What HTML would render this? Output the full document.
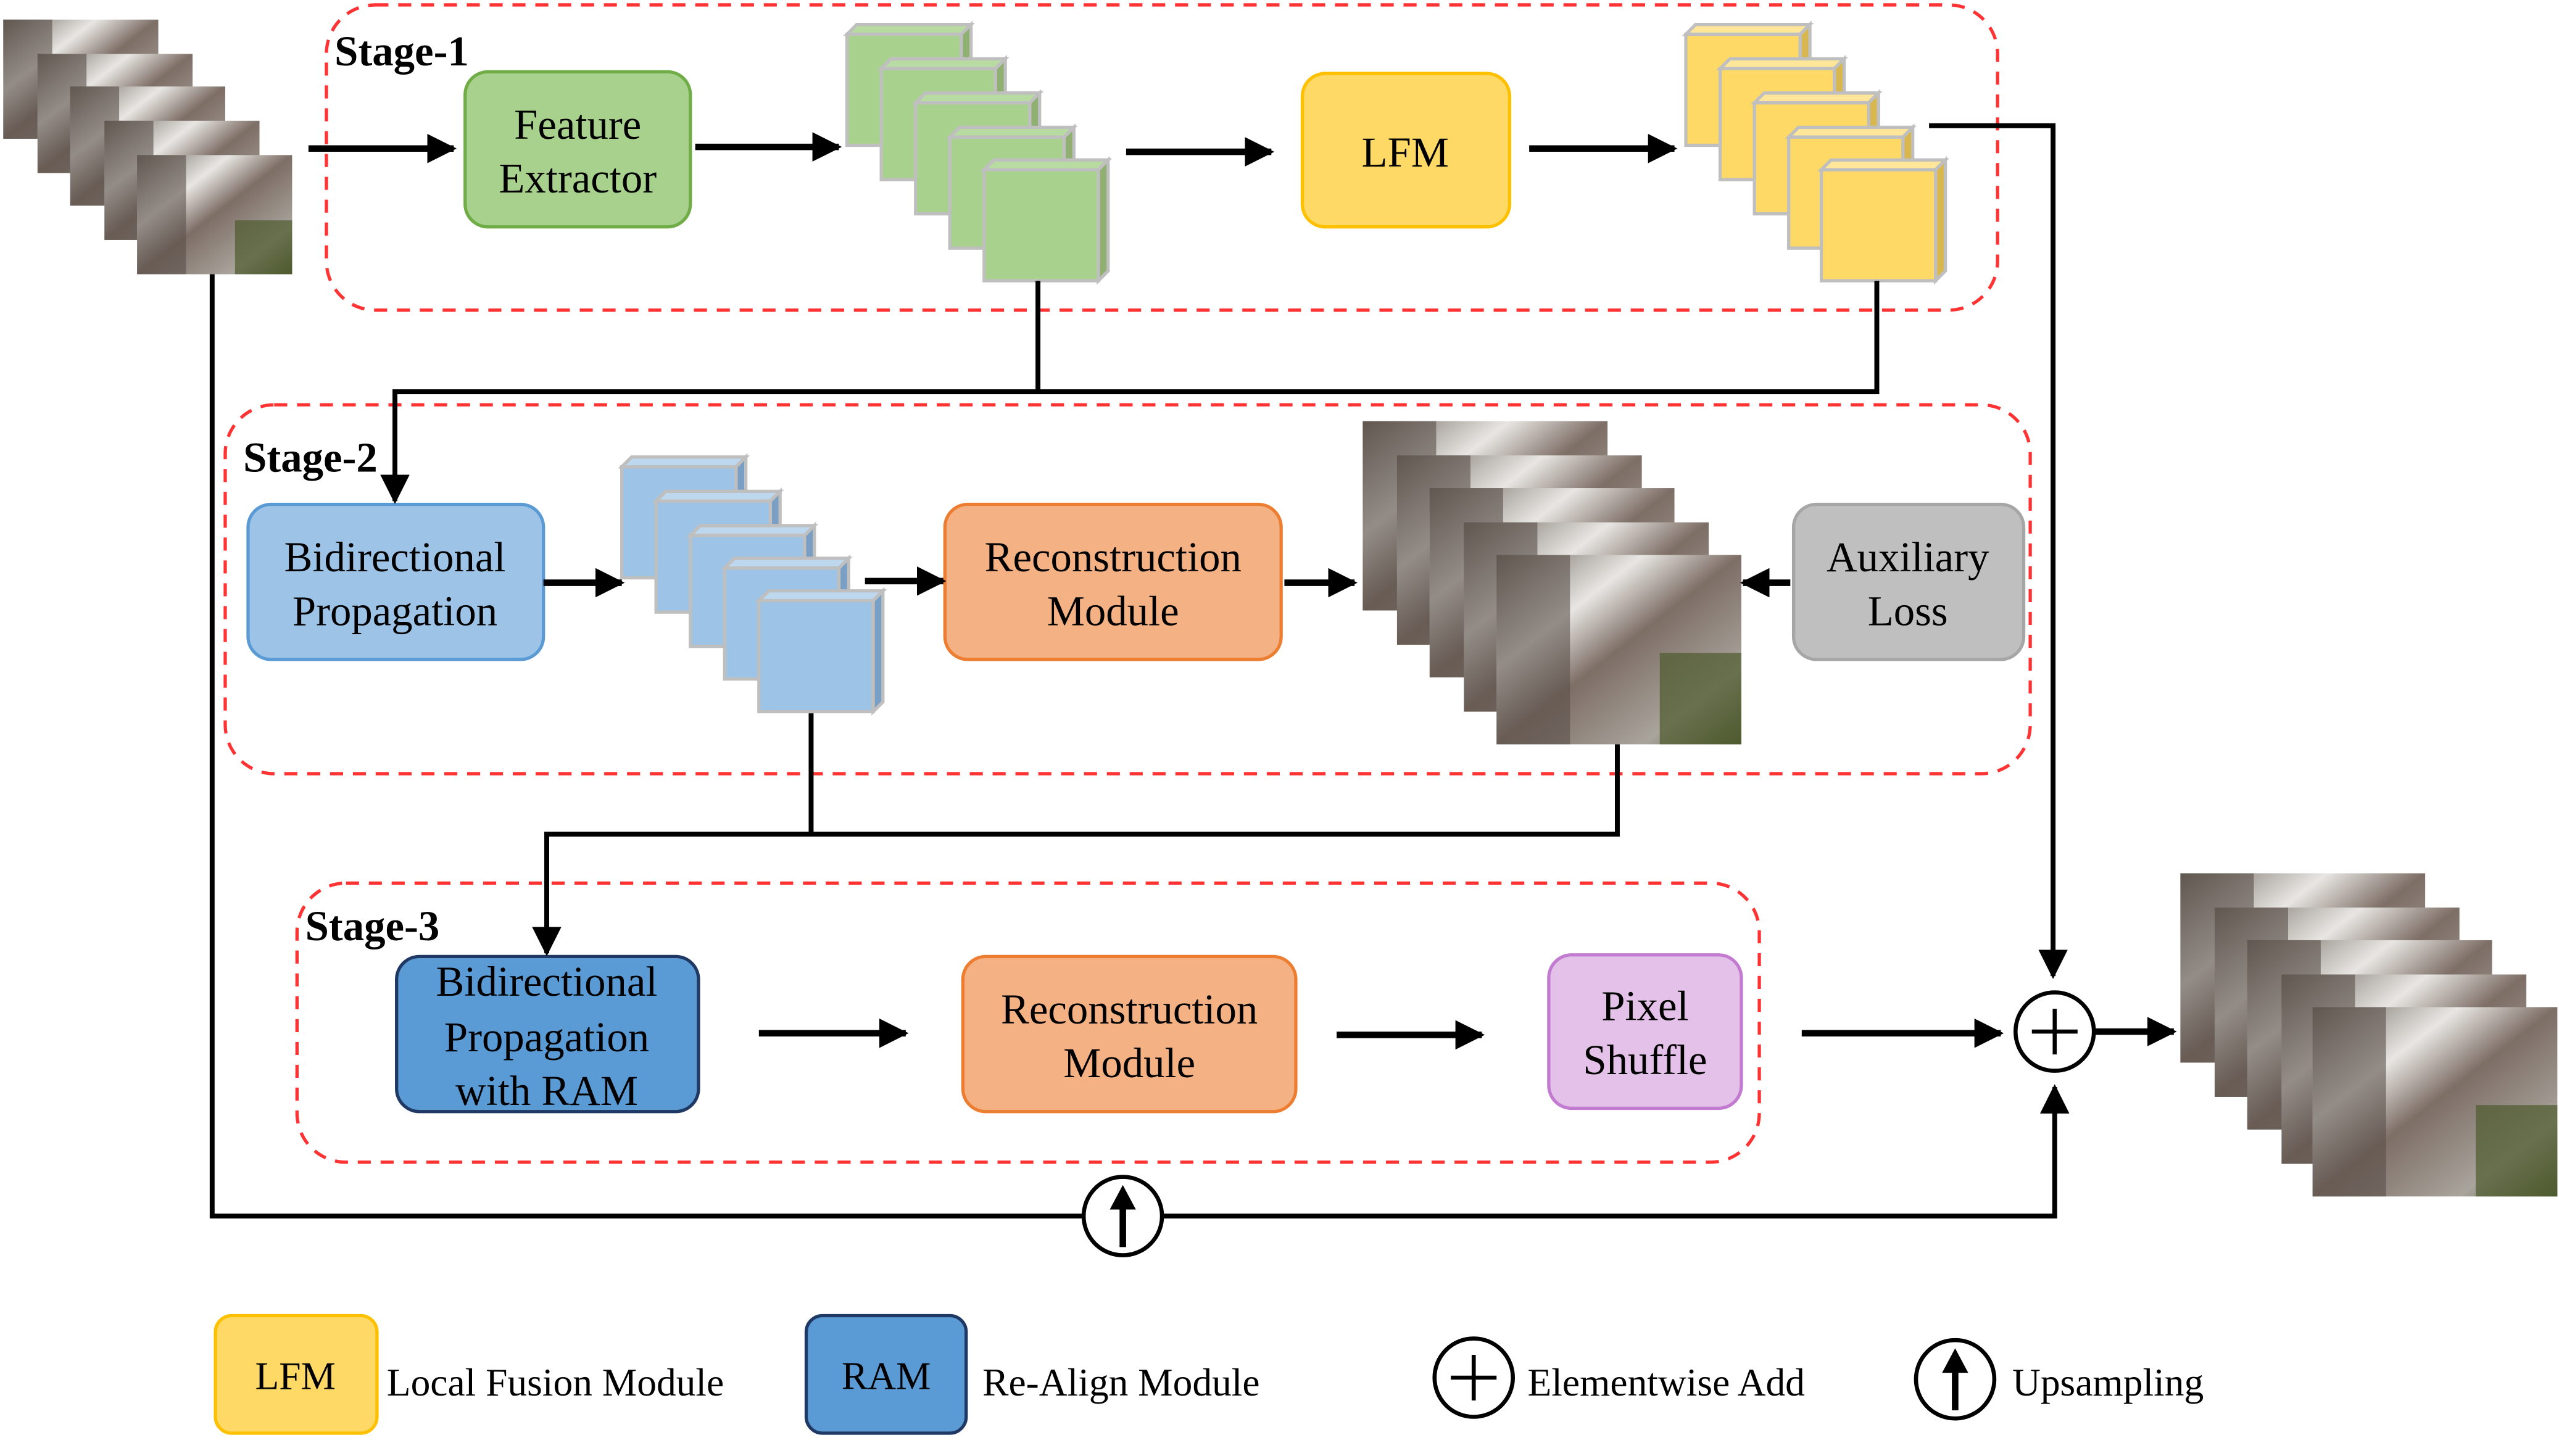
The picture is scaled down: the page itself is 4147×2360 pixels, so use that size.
<!DOCTYPE html>
<html><head><meta charset="utf-8"><style>html,body{margin:0;padding:0;background:#fff}svg{display:block}text{font-family:"Liberation Serif",serif}</style></head>
<body>
<svg width="4147" height="2360" viewBox="0 0 1568 892" preserveAspectRatio="none" xmlns="http://www.w3.org/2000/svg">
<defs>
<marker id="ah" viewBox="0 0 10 10" refX="9" refY="5" markerWidth="4.5" markerHeight="4.5" orient="auto" markerUnits="strokeWidth"><path d="M0,0 L10,5 L0,10 z" fill="#000"/></marker>
<marker id="ah2" viewBox="0 0 10 10" refX="9" refY="5" markerWidth="6" markerHeight="6" orient="auto" markerUnits="strokeWidth"><path d="M0,0 L10,5 L0,10 z" fill="#000"/></marker>
<linearGradient id="ph" x1="0" y1="0" x2="1" y2="1">
<stop offset="0" stop-color="#6b6259"/><stop offset="0.3" stop-color="#e8e6e3"/><stop offset="0.5" stop-color="#7d6e66"/><stop offset="0.8" stop-color="#a9a49c"/><stop offset="1" stop-color="#4f5a33"/></linearGradient>
<g id="img"><rect width="95" height="73" fill="url(#ph)"/><rect x="0" y="0" width="30" height="73" fill="#5a504a" opacity="0.6"/><rect x="60" y="40" width="35" height="33" fill="#4d5a2c" opacity="0.7"/></g>
<g id="bimg"><rect width="150" height="116" fill="url(#ph)"/><rect x="0" y="0" width="45" height="116" fill="#5a504a" opacity="0.6"/><rect x="100" y="60" width="50" height="56" fill="#4d5a2c" opacity="0.7"/></g>
<g id="gc"><polygon points="0,6 6,0 76,0 70,6" fill="#b7dba0" stroke="#bfbfbf" stroke-width="2"/><polygon points="70,6 76,0 76,68 70,74" fill="#8fb070" stroke="#bfbfbf" stroke-width="2"/><rect x="0" y="6" width="70" height="68" fill="#a9d18e" stroke="#bfbfbf" stroke-width="2"/></g>
<g id="yc"><polygon points="0,6 6,0 76,0 70,6" fill="#ffe699" stroke="#bfbfbf" stroke-width="2"/><polygon points="70,6 76,0 76,68 70,74" fill="#d8b84e" stroke="#bfbfbf" stroke-width="2"/><rect x="0" y="6" width="70" height="68" fill="#ffd966" stroke="#bfbfbf" stroke-width="2"/></g>
<g id="bc"><polygon points="0,6 6,0 76,0 70,6" fill="#bdd7ee" stroke="#bfbfbf" stroke-width="2"/><polygon points="70,6 76,0 76,68 70,74" fill="#7a9fc4" stroke="#bfbfbf" stroke-width="2"/><rect x="0" y="6" width="70" height="68" fill="#9dc3e6" stroke="#bfbfbf" stroke-width="2"/></g>
</defs>
<g fill="none" stroke="#ff3333" stroke-width="2" stroke-dasharray="8,6">
<rect x="200" y="3" width="1024" height="187" rx="30"/>
<rect x="138" y="248" width="1106" height="226" rx="30"/>
<rect x="182" y="541" width="896" height="171" rx="30"/>
</g>
<g font-weight="bold" font-size="26"><text x="205" y="40">Stage-1</text><text x="149" y="289">Stage-2</text><text x="187" y="576">Stage-3</text></g>
<use href="#img" x="2" y="12"/><use href="#img" x="23" y="33"/><use href="#img" x="43" y="53"/><use href="#img" x="64" y="74"/><use href="#img" x="84" y="95"/>
<use href="#gc" x="519" y="15"/><use href="#gc" x="540" y="36"/><use href="#gc" x="561" y="57"/><use href="#gc" x="582" y="78"/><use href="#gc" x="603" y="98"/>
<use href="#yc" x="1033" y="15"/><use href="#yc" x="1054" y="36"/><use href="#yc" x="1075" y="57"/><use href="#yc" x="1096" y="78"/><use href="#yc" x="1116" y="98"/>
<use href="#bc" x="381" y="280"/><use href="#bc" x="402" y="301"/><use href="#bc" x="423" y="322"/><use href="#bc" x="444" y="342"/><use href="#bc" x="465" y="362"/>
<use href="#bimg" x="835" y="258"/><use href="#bimg" x="856" y="279"/><use href="#bimg" x="876" y="299"/><use href="#bimg" x="897" y="320"/><use href="#bimg" x="917" y="340"/>
<use href="#bimg" x="1336" y="535"/><use href="#bimg" x="1357" y="556"/><use href="#bimg" x="1377" y="576"/><use href="#bimg" x="1398" y="597"/><use href="#bimg" x="1417" y="617"/>
<g stroke-width="2" font-size="26" text-anchor="middle">
<rect x="285" y="44" width="138" height="95" rx="14" fill="#a9d18e" stroke="#70ad47"/>
<text x="354" y="85">Feature</text><text x="354" y="118">Extractor</text>
<rect x="798" y="45" width="127" height="94" rx="14" fill="#ffd966" stroke="#ffc000"/>
<text x="861" y="102">LFM</text>
<rect x="152" y="309" width="181" height="95" rx="14" fill="#9dc3e6" stroke="#5b9bd5"/>
<text x="242" y="350">Bidirectional</text><text x="242" y="383">Propagation</text>
<rect x="579" y="309" width="206" height="95" rx="14" fill="#f4b183" stroke="#ed7d31"/>
<text x="682" y="350">Reconstruction</text><text x="682" y="383">Module</text>
<rect x="1099" y="309" width="141" height="95" rx="14" fill="#bfbfbf" stroke="#a6a6a6"/>
<text x="1169" y="350">Auxiliary</text><text x="1169" y="383">Loss</text>
<rect x="243" y="586" width="185" height="95" rx="14" fill="#5b9bd5" stroke="#1f3864"/>
<text x="335" y="610">Bidirectional</text><text x="335" y="644">Propagation</text><text x="335" y="677">with RAM</text>
<rect x="590" y="586" width="204" height="95" rx="14" fill="#f4b183" stroke="#ed7d31"/>
<text x="692" y="627">Reconstruction</text><text x="692" y="660">Module</text>
<rect x="949" y="585" width="118" height="94" rx="14" fill="#e4c1e8" stroke="#c27bd1"/>
<text x="1008" y="625">Pixel</text><text x="1008" y="658">Shuffle</text>
</g>
<g stroke="#000" stroke-width="4" marker-end="url(#ah)" fill="none">
<path d="M189,91 H278"/><path d="M426,90 H514"/><path d="M690,93 H779"/><path d="M937,91 H1026"/>
<path d="M333,357 H381"/><path d="M530,356 H578"/><path d="M787,357 H830"/><path d="M1097,357 H1068"/>
<path d="M465,633 H555"/><path d="M819,634 H908"/><path d="M1104,633 H1226"/><path d="M1284,632 H1332"/>
</g>
<g stroke="#000" stroke-width="3" fill="none">
<path d="M1182,77 H1258 V598" marker-end="url(#ah2)"/>
<path d="M636,172 V240"/><path d="M1150,172 V240 H242 V307" marker-end="url(#ah2)"/>
<path d="M497,437 V511"/><path d="M991,456 V511 H335 V584" marker-end="url(#ah2)"/>
<path d="M130,168 V745 H664"/><path d="M712,745 H1259 V666" marker-end="url(#ah2)"/>
</g>
<g stroke="#000" stroke-width="2.5" fill="#fff">
<circle cx="1259" cy="632" r="24"/><circle cx="688" cy="745" r="24"/><circle cx="903" cy="844" r="24"/><circle cx="1198" cy="845" r="24"/>
</g>
<g stroke="#000" stroke-width="2.5">
<path d="M1245,632 H1273 M1259,618 V646"/><path d="M889,844 H917 M903,830 V858"/>
</g>
<g stroke="#000" stroke-width="4">
<path d="M688,764 V738"/><path d="M1198,864 V838"/>
</g>
<polygon points="688,726 680,741 696,741" fill="#000"/><polygon points="1198,826 1190,841 1206,841" fill="#000"/>
<rect x="132" y="806" width="99" height="72" rx="10" fill="#ffd966" stroke="#ffc000" stroke-width="2"/>
<rect x="494" y="806" width="98" height="72" rx="10" fill="#5b9bd5" stroke="#1f3864" stroke-width="2"/>
<g font-size="24"><text x="181" y="851" text-anchor="middle">LFM</text><text x="543" y="851" text-anchor="middle">RAM</text>
<text x="237" y="855">Local Fusion Module</text><text x="602" y="855">Re-Align Module</text>
<text x="936" y="855">Elementwise Add</text><text x="1233" y="855">Upsampling</text></g>
</svg>
</body></html>
